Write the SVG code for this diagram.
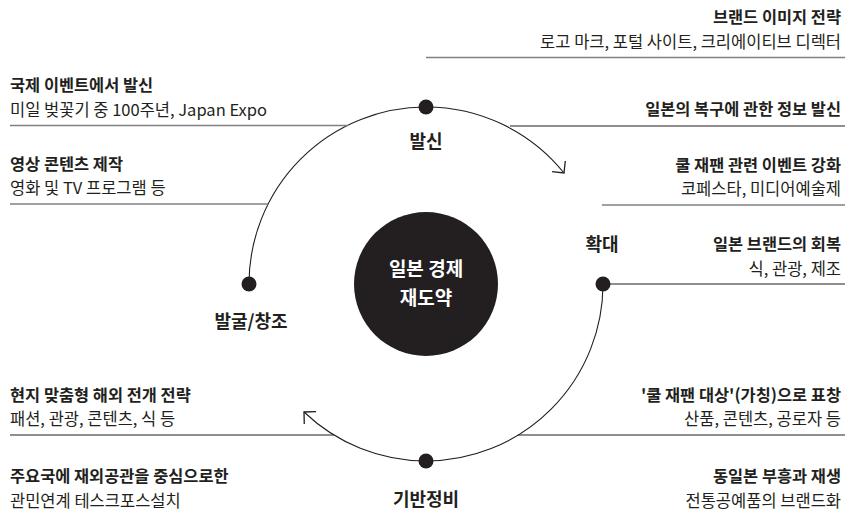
<svg xmlns="http://www.w3.org/2000/svg" width="845" height="517" viewBox="0 0 845 517">
<defs>
<style>
text{font-family:"Noto Sans CJK KR","Noto Sans",sans-serif;fill:#231f20}
.t{font-size:16.4px;font-weight:700}
.s{font-size:16.5px;font-weight:400}
.st{font-size:18px;font-weight:700;text-anchor:middle}
.c{font-size:19px;font-weight:700;text-anchor:middle;fill:#fff}
.r{text-anchor:end}
.lk{stroke:#231f20;stroke-width:1.2;fill:none}
.lg{stroke:#808080;stroke-width:1.5;fill:none}
.arc{stroke:#231f20;stroke-width:1.1;fill:none}
.dot{fill:#231f20}
</style>
<marker id="arr" markerWidth="20" markerHeight="20" refX="10" refY="10" orient="auto" markerUnits="userSpaceOnUse" viewBox="0 0 20 20">
<path d="M1.5,1.5 L10,10 L1.5,18.5" fill="none" stroke="#231f20" stroke-width="1.3"/>
</marker>
</defs>
<rect width="845" height="517" fill="#fff"/>

<g id="connectors">
<path class="arc" d="M249,284 A177,177 0 0 1 426,107"/>
<path class="arc" d="M426,107 A177,177 0 0 1 564,173" marker-end="url(#arr)"/>
<path class="arc" d="M603,284 A177,177 0 0 1 426,461"/>
<path class="arc" d="M426,461 A177,177 0 0 1 304,412" marker-end="url(#arr)"/>
<line class="lg" x1="426" y1="57.5" x2="845" y2="57.5"/>
<line class="lk" x1="510" y1="126" x2="845" y2="126"/>
<line class="lg" x1="10" y1="125.5" x2="348" y2="125.5"/>
<line class="lg" x1="10" y1="204" x2="268" y2="204"/>
<line class="lg" x1="602" y1="205" x2="845" y2="205"/>
<line class="lk" x1="603" y1="284" x2="845" y2="284"/>
<line class="lk" x1="10" y1="435" x2="334" y2="435"/>
<line class="lk" x1="518" y1="435" x2="845" y2="435"/>
</g>

<g id="center">
<circle cx="426" cy="284" r="72" class="dot"/>
<text class="c" x="426" y="276">일본 경제</text>
<text class="c" x="426" y="305">재도약</text>
</g>

<g id="stage-balsin">
<circle cx="426" cy="107" r="7.5" class="dot"/>
<text class="st" x="426" y="148">발신</text>
</g>
<g id="stage-hwakdae">
<circle cx="603" cy="284" r="7.5" class="dot"/>
<text class="st" x="602" y="251">확대</text>
</g>
<g id="stage-giban">
<circle cx="426" cy="461" r="7.5" class="dot"/>
<text class="st" x="426" y="506">기반정비</text>
</g>
<g id="stage-balgul">
<circle cx="249" cy="284" r="7.5" class="dot"/>
<text class="st" x="251" y="328">발굴/창조</text>
</g>

<g id="brand-image">
<text class="t r" x="841" y="23">브랜드 이미지 전략</text>
<text class="s r" x="841" y="48">로고 마크, 포털 사이트, 크리에이티브 디렉터</text>
</g>
<g id="intl-event">
<text class="t" x="10" y="91">국제 이벤트에서 발신</text>
<text class="s" x="10" y="115.5">미일 벚꽃기 중 100주년, Japan Expo</text>
</g>
<g id="recovery-info">
<text class="t r" x="841" y="114.5">일본의 복구에 관한 정보 발신</text>
</g>
<g id="video-content">
<text class="t" x="10" y="169.5">영상 콘텐츠 제작</text>
<text class="s" x="10" y="194">영화 및 TV 프로그램 등</text>
</g>
<g id="cool-japan-event">
<text class="t r" x="841" y="170.5">쿨 재팬 관련 이벤트 강화</text>
<text class="s r" x="841" y="195">코페스타, 미디어예술제</text>
</g>
<g id="brand-recovery">
<text class="t r" x="841" y="250">일본 브랜드의 회복</text>
<text class="s r" x="841" y="274.5">식, 관광, 제조</text>
</g>
<g id="local-strategy">
<text class="t" x="10" y="400.5">현지 맞춤형 해외 전개 전략</text>
<text class="s" x="10" y="425">패션, 관광, 콘텐츠, 식 등</text>
</g>
<g id="cool-japan-award">
<text class="t r" x="841" y="400.5">'쿨 재팬 대상'(가칭)으로 표창</text>
<text class="s r" x="841" y="425">산품, 콘텐츠, 공로자 등</text>
</g>
<g id="taskforce">
<text class="t" x="10" y="481.5">주요국에 재외공관을 중심으로한</text>
<text class="s" x="10" y="507">관민연계 테스크포스설치</text>
</g>
<g id="east-japan">
<text class="t r" x="841" y="481.5">동일본 부흥과 재생</text>
<text class="s r" x="841" y="507">전통공예품의 브랜드화</text>
</g>
</svg>
